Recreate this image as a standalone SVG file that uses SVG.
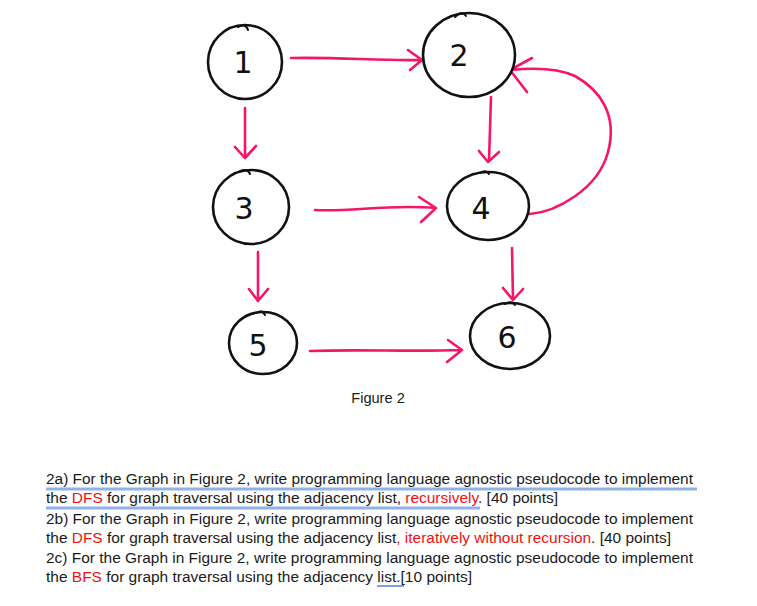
<svg xmlns="http://www.w3.org/2000/svg" width="757" height="606" viewBox="0 0 757 606">
<style>
.nd{fill:#fff;stroke:#111;stroke-width:2.6;stroke-linecap:round}
.tk{fill:none;stroke:#111;stroke-width:2;stroke-linecap:round}
.dg{font-family:"DejaVu Sans",sans-serif;font-size:30px;font-weight:400;fill:#111;text-anchor:middle}
.ed{fill:none;stroke:#f5156a;stroke-width:2.6;stroke-linecap:round;stroke-linejoin:round}
.tx{font-family:"Liberation Sans",Arial,sans-serif;font-size:15.2px;fill:#1a1a1a}
.r{fill:#ee1111}
.cap{font-family:"Liberation Sans",Arial,sans-serif;font-size:14.6px;fill:#1a1a1a;text-anchor:middle}
</style>
<rect width="757" height="606" fill="#fff"/>
<g id="edges">
<path class="ed" d="M291,58 C340,57 380,61 421,60 M408,50 L422,60 L410,70"/>
<path class="ed" d="M245,108 L245,157 M235,147 L245,158 L256,146"/>
<path class="ed" d="M491,97 L489,161 M479,151 L488,162 L499,152"/>
<path class="ed" d="M315,210 C350,212 390,204 435,208 M419,197 L436,208 L421,222"/>
<path class="ed" d="M530,214 C555,212 598,190 608,152 C618,115 600,90 575,76 C555,67 530,68 511,70 M532,58 L510,70 L527,92"/>
<path class="ed" d="M258,252 L258,299 M249,289 L258,301 L268,289"/>
<path class="ed" d="M512,248 L513,299 M503,288 L513,300 L523,289"/>
<path class="ed" d="M310,351 C360,349 410,352 461,350 M448,340 L462,350 L447,362"/>
</g>
<g id="node1"><ellipse class="nd" cx="245" cy="62" rx="37" ry="37"/><path class="tk" d="M238,27 Q246,23 248,30"/><text class="dg" x="243" y="73">1</text></g>
<g id="node2"><ellipse class="nd" cx="469" cy="55" rx="46" ry="42"/><path class="tk" d="M455,17 Q462,10 466,16"/><text class="dg" x="459" y="66">2</text></g>
<g id="node3"><ellipse class="nd" cx="251" cy="207" rx="38" ry="37"/><path class="tk" d="M238,172 Q247,167 250,174"/><text class="dg" x="244" y="219">3</text></g>
<g id="node4"><ellipse class="nd" cx="488" cy="206" rx="41" ry="34"/><path class="tk" d="M480,173 Q486,169 489,174"/><text class="dg" x="481" y="219">4</text></g>
<g id="node5"><ellipse class="nd" cx="263" cy="343" rx="34" ry="31"/><path class="tk" d="M256,313 Q262,309 265,315"/><text class="dg" x="258" y="356">5</text></g>
<g id="node6"><ellipse class="nd" cx="510" cy="336" rx="40" ry="33"/><path class="tk" d="M505,304 Q512,300 515,305"/><text class="dg" x="507" y="348">6</text></g>
<text class="cap" x="378" y="403">Figure 2</text>
<g id="notes">
<line x1="46" y1="489" x2="697" y2="489" stroke="#8fb3e6" stroke-width="3"/>
<line x1="46" y1="508" x2="480" y2="508" stroke="#8fb3e6" stroke-width="3"/>
<line x1="377" y1="586" x2="404" y2="586" stroke="#2b5fc7" stroke-width="1.2"/>
<text class="tx" x="46" y="484" textLength="647" lengthAdjust="spacingAndGlyphs">2a) For the Graph in Figure 2, write programming language agnostic pseudocode to implement</text>
<text class="tx" x="46" y="503" textLength="512" lengthAdjust="spacingAndGlyphs">the <tspan class="r">DFS</tspan> for graph traversal using the adjacency list, <tspan class="r">recursively</tspan>. [40 points]</text>
<text class="tx" x="46" y="524" textLength="647" lengthAdjust="spacingAndGlyphs">2b) For the Graph in Figure 2, write programming language agnostic pseudocode to implement</text>
<text class="tx" x="46" y="543" textLength="625" lengthAdjust="spacingAndGlyphs">the <tspan class="r">DFS</tspan> for graph traversal using the adjacency list<tspan class="r">, iteratively without recursion</tspan>. [40 points]</text>
<text class="tx" x="46" y="563" textLength="647" lengthAdjust="spacingAndGlyphs">2c) For the Graph in Figure 2, write programming language agnostic pseudocode to implement</text>
<text class="tx" x="46" y="582" textLength="426" lengthAdjust="spacingAndGlyphs">the <tspan class="r">BFS</tspan> for graph traversal using the adjacency list.[10 points]</text>
</g>
</svg>
